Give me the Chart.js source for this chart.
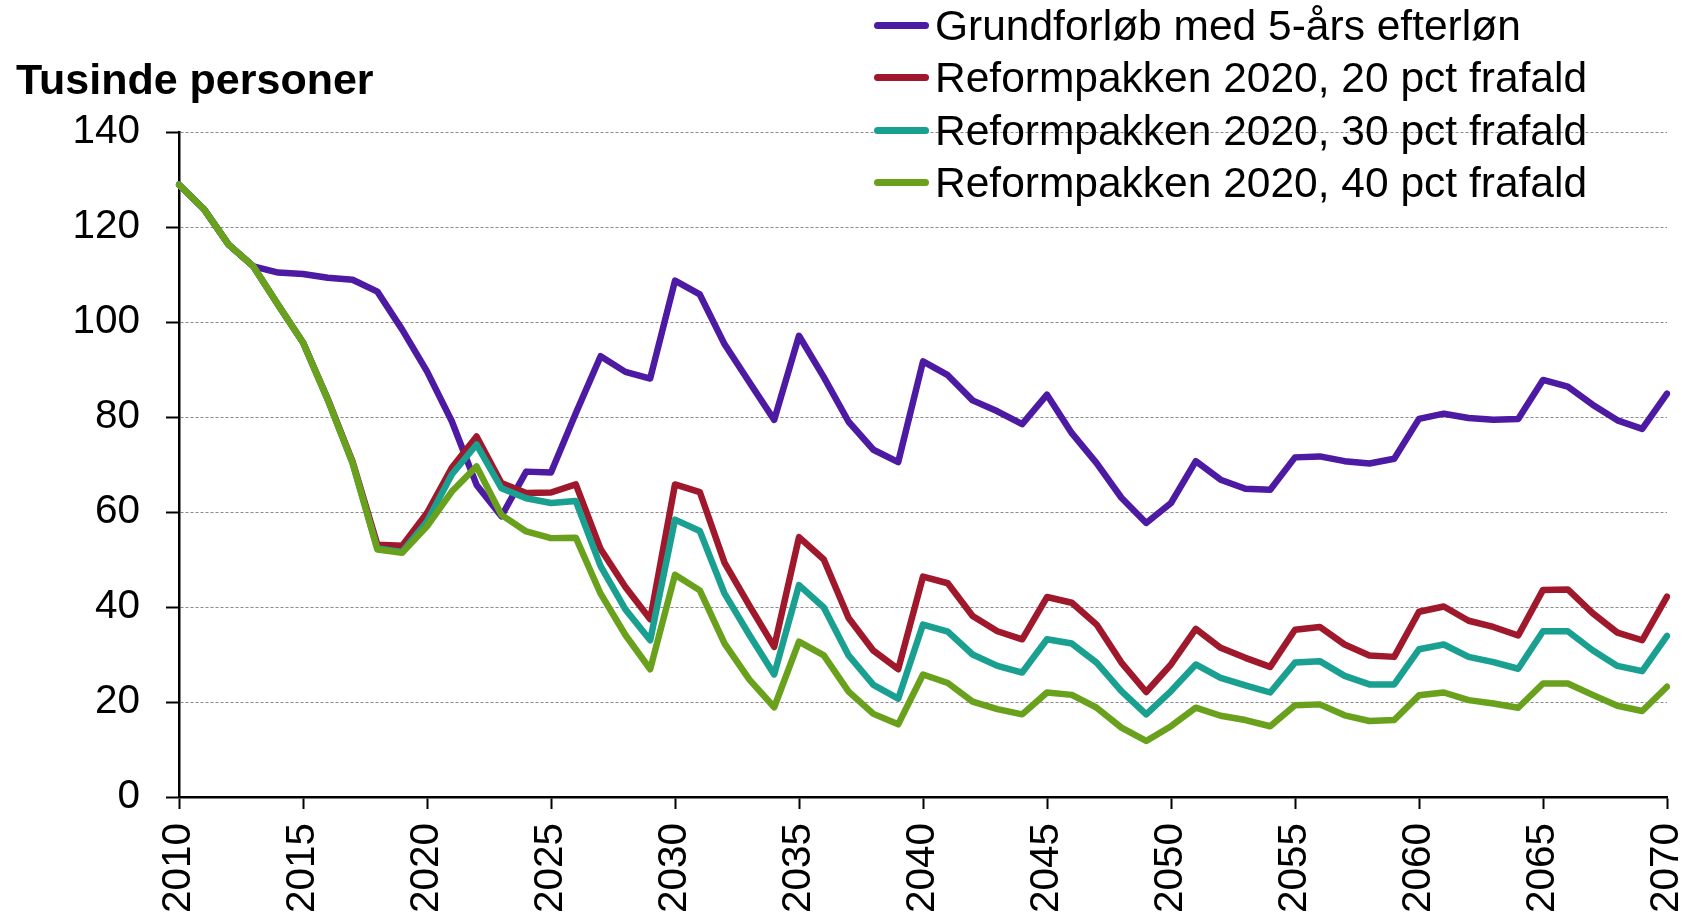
<!DOCTYPE html>
<html>
<head>
<meta charset="utf-8">
<script src="https://cdn.jsdelivr.net/npm/chart.js@4"></script>
<style>
  html, body { margin: 0; padding: 0; background: #fff; }
  #wrap { position: relative; width: 1693px; height: 921px; font-family: "Liberation Sans", Arial, sans-serif; }
  #chart { position: absolute; left: 0; top: 0; }
  #title { position: absolute; left: 16px; top: 58px; font-size: 43px; font-weight: bold; line-height: 43px; color: #000; white-space: nowrap; }
  #legend { position: absolute; left: 874px; top: -1px; }
  .row { display: flex; align-items: center; height: 52.5px; }
  .sw { width: 55px; height: 7px; border-radius: 3.5px; margin-right: 6px; }
  .lbl { font-size: 42.5px; line-height: 43px; color: #000; white-space: nowrap; }
</style>
</head>
<body>
<div id="wrap">
  <canvas id="chart" width="1693" height="921"></canvas>
  <div id="title">Tusinde personer</div>
  <div id="legend"></div>
</div>
<script>
// Data (tusinde personer), 2010-2070
const years = [];
for (let y = 2010; y <= 2070; y++) years.push(y);

const seriesNames = [
  "Grundforløb med 5-års efterløn",
  "Reformpakken 2020, 20 pct frafald",
  "Reformpakken 2020, 30 pct frafald",
  "Reformpakken 2020, 40 pct frafald"
];
const seriesColors = ["#4c1aa3", "#a0182b", "#1aa091", "#6aa11c"];

const grundforloeb = [
  128.9, 123.8, 116.3, 111.7, 110.4, 110.1, 109.3, 108.9, 106.4, 98.4,
  89.6, 79.1, 65.7, 59.1, 68.5, 68.3, 80.8, 92.8, 89.5, 88.1,
  108.7, 105.8, 95.3, 87.3, 79.4, 97.1, 88.4, 79.0, 73.1, 70.5,
  91.7, 88.8, 83.5, 81.2, 78.5, 84.7, 76.6, 70.3, 63.0, 57.7,
  61.9, 70.7, 66.8, 64.9, 64.7, 71.5, 71.7, 70.7, 70.2, 71.2,
  79.6, 80.7, 79.8, 79.4, 79.6, 87.8, 86.4, 82.6, 79.3, 77.5,
  84.9
];
const frafald20 = [
  128.9, 123.8, 116.3, 111.7, 103.6, 95.7, 83.8, 70.6, 53.1, 52.9,
  59.8, 69.3, 75.9, 66.1, 64.0, 64.1, 65.8, 52.2, 44.2, 37.4,
  65.8, 64.2, 49.3, 40.3, 31.6, 54.7, 50.0, 37.7, 30.8, 26.9,
  46.4, 45.0, 38.1, 34.9, 33.2, 42.1, 40.9, 36.3, 28.3, 22.1,
  27.9, 35.4, 31.4, 29.3, 27.4, 35.2, 35.8, 32.1, 29.8, 29.5,
  39.0, 40.1, 37.1, 35.8, 34.0, 43.6, 43.7, 38.7, 34.6, 33.0,
  42.2
];
const frafald30 = [
  128.9, 123.8, 116.3, 111.7, 103.6, 95.7, 83.6, 70.3, 52.3, 51.6,
  58.0, 67.9, 74.2, 65.0, 62.9, 61.9, 62.3, 48.6, 39.5, 33.0,
  58.4, 56.0, 42.8, 34.1, 25.8, 44.6, 39.9, 29.8, 23.6, 20.7,
  36.3, 34.8, 30.0, 27.6, 26.2, 33.2, 32.3, 28.3, 22.3, 17.4,
  22.3, 27.9, 25.1, 23.5, 22.0, 28.3, 28.6, 25.5, 23.7, 23.7,
  31.1, 32.1, 29.5, 28.4, 27.0, 34.9, 34.9, 30.9, 27.6, 26.5,
  33.9
];
const frafald40 = [
  128.9, 123.8, 116.3, 111.7, 103.6, 95.7, 83.6, 70.3, 52.1, 51.4,
  57.0, 64.3, 69.6, 59.4, 55.9, 54.5, 54.6, 42.8, 34.1, 26.9,
  46.8, 43.5, 32.3, 24.7, 18.9, 32.7, 29.8, 22.2, 17.5, 15.3,
  25.8, 24.0, 20.1, 18.5, 17.4, 22.0, 21.5, 18.8, 14.6, 11.8,
  14.9, 18.8, 17.1, 16.2, 14.9, 19.3, 19.5, 17.2, 16.0, 16.2,
  21.4, 22.0, 20.4, 19.7, 18.8, 23.9, 23.9, 21.5, 19.2, 18.1,
  23.2
];
const seriesValues = [grundforloeb, frafald20, frafald30, frafald40];

const yMin = 0, yMax = 140, yStep = 20;

// Legend (html)
const legendEl = document.getElementById("legend");
seriesNames.forEach((name, i) => {
  const row = document.createElement("div"); row.className = "row";
  const sw = document.createElement("div"); sw.className = "sw"; sw.style.background = seriesColors[i];
  const lbl = document.createElement("div"); lbl.className = "lbl"; lbl.textContent = name;
  row.appendChild(sw); row.appendChild(lbl); legendEl.appendChild(row);
});

const FONT = "'Liberation Sans', Arial, sans-serif";

new Chart(document.getElementById("chart"), {
  type: "line",
  data: {
    labels: years,
    datasets: seriesValues.map((vals, i) => ({
      label: seriesNames[i],
      data: vals,
      borderColor: seriesColors[i],
      backgroundColor: seriesColors[i],
      borderWidth: 6.5,
      borderJoinStyle: "round",
      borderCapStyle: "round",
      pointRadius: 0,
      tension: 0,
      order: seriesValues.length - i  // last series on top
    }))
  },
  options: {
    responsive: false,
    animation: false,
    devicePixelRatio: 1,
    layout: { padding: { top: 132, right: 26, left: 0, bottom: 0 } },
    plugins: { legend: { display: false }, tooltip: { enabled: false }, title: { display: false } },
    scales: {
      x: {
        type: "category",
        offset: false,
        grid: { drawOnChartArea: false, drawTicks: true, tickLength: 12, tickColor: "#000", tickWidth: 2 },
        border: { color: "#000", width: 2.5 },
        ticks: {
          autoSkip: false, minRotation: 90, maxRotation: 90, padding: 14,
          color: "#000", font: { family: FONT, size: 40.5 },
          callback: (v, i) => (years[i] % 5 === 0 ? String(years[i]) : null)
        },
        afterFit: s => { s.height = 124; s.paddingLeft = 0; s.paddingRight = 0; }
      },
      y: {
        min: yMin, max: yMax,
        grid: { color: "#8a8a8a", lineWidth: 1, drawTicks: true, tickLength: 13, tickColor: "#000", tickWidth: 2, tickBorderDash: [] },
        border: { color: "#000", width: 2.5, dash: [3, 2] },
        ticks: { stepSize: yStep, padding: 26, color: "#000", font: { family: FONT, size: 40.5 } },
        afterFit: s => { s.width = 179; s.paddingTop = 0; s.paddingBottom = 0; }
      }
    }
  }
});
</script>
</body>
</html>
